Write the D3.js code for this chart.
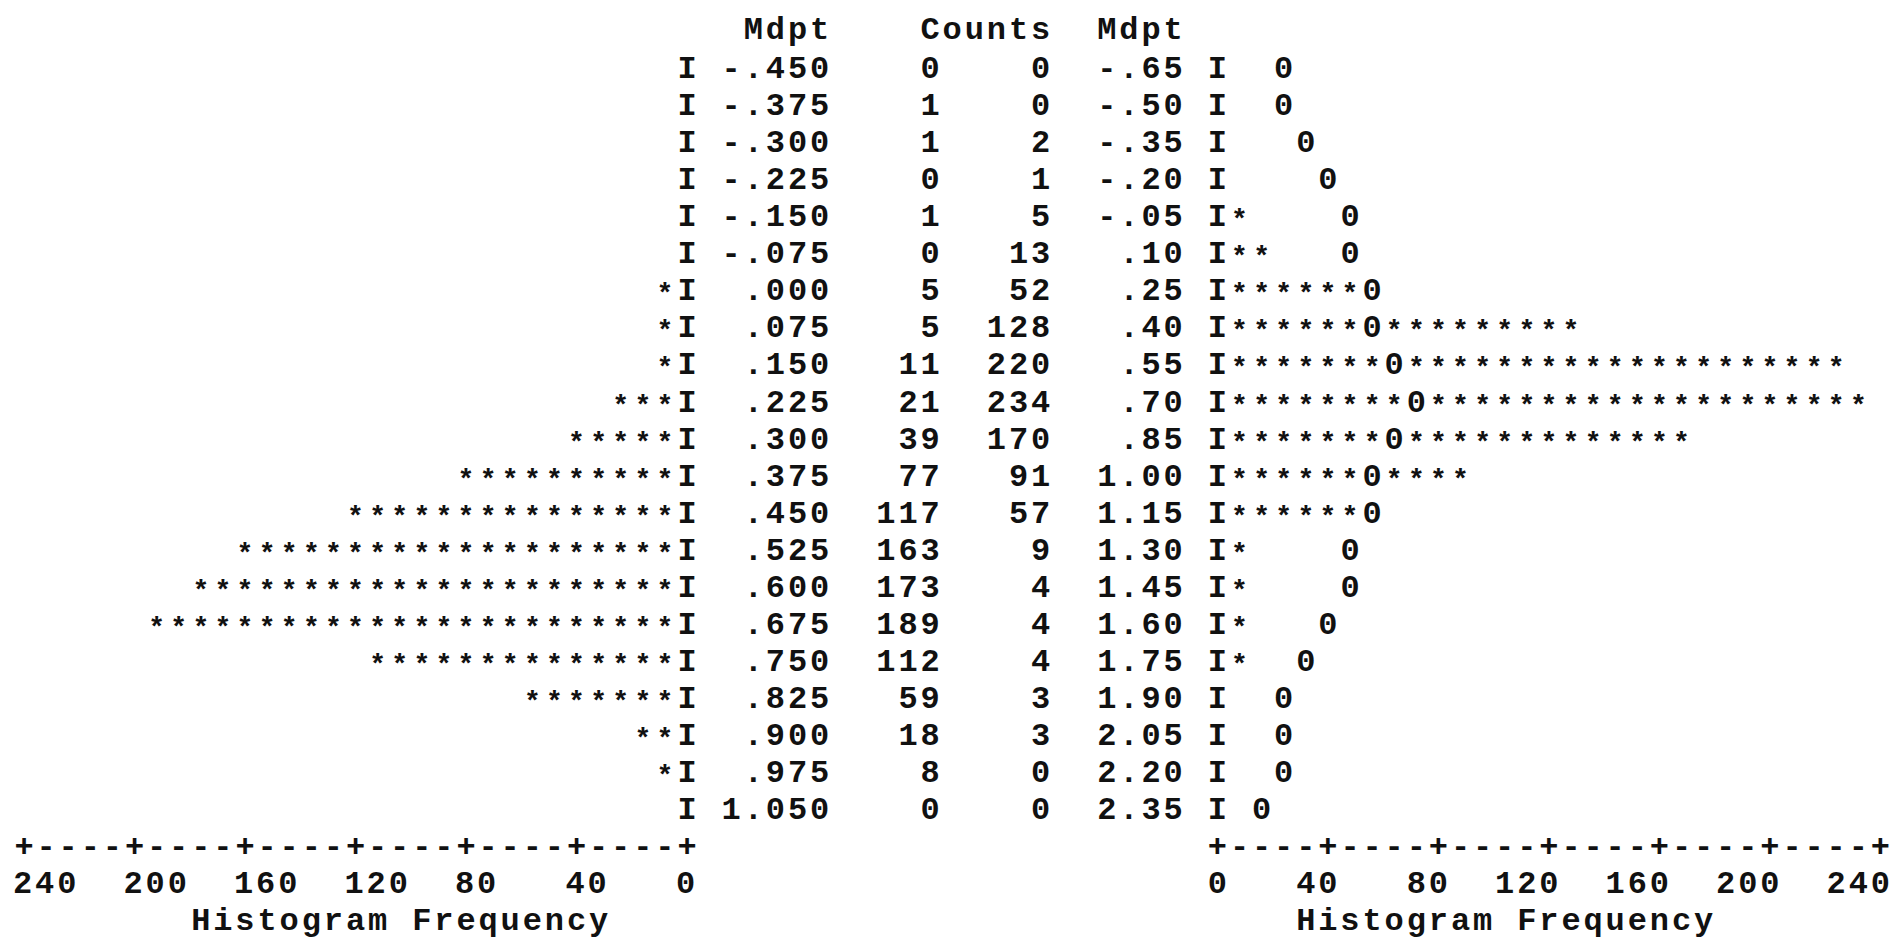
<!DOCTYPE html>
<html>
<head>
<meta charset="utf-8">
<script src="https://cdn.jsdelivr.net/npm/d3@7"></script>
<style>
  body { margin: 0; background: #fff; }
  text { font-family: "Liberation Mono", "DejaVu Sans Mono", monospace; font-weight: bold; font-size: 32px; letter-spacing: 2.9px; fill: #111; }
  text.star { font-size: 28px; letter-spacing: 5.3px; }
</style>
</head>
<body>
<svg id="chart" width="1895" height="940"></svg>
<script>
// left histogram
const leftMdpt = ["-.450", "-.375", "-.300", "-.225", "-.150", "-.075", ".000", ".075", ".150", ".225", ".300",
  ".375", ".450", ".525", ".600", ".675", ".750", ".825", ".900", ".975", "1.050"];
const leftCounts = [0, 1, 1, 0, 1, 0, 5, 5, 11, 21, 39, 77, 117, 163, 173, 189, 112, 59, 18, 8, 0];

// right histogram (with normal curve marks "0")
const rightMdpt = ["-.65", "-.50", "-.35", "-.20", "-.05", ".10", ".25", ".40", ".55", ".70", ".85",
  "1.00", "1.15", "1.30", "1.45", "1.60", "1.75", "1.90", "2.05", "2.20", "2.35"];
const rightCounts = [0, 0, 2, 1, 5, 13, 52, 128, 220, 234, 170, 91, 57, 9, 4, 4, 4, 3, 3, 0, 0];
const normalCurve = [24, 24, 32, 40, 48, 48, 56, 56, 64, 72, 64, 56, 56, 48, 48, 40, 32, 24, 24, 24, 16];

const leftTicks = [240, 200, 160, 120, 80, 40, 0];
const rightTicks = [0, 40, 80, 120, 160, 200, 240];
const axisTitle = "Histogram Frequency";

const svg = d3.select("#chart");

// character grid: one column per printed character
const cw = 22.1;
const ls = 2.9; // letter spacing, trails the last glyph
const col = d3.scaleLinear().domain([0, 84]).range([24, 24 + 84 * cw]);
const row = d3.scaleLinear().domain([-1, 23]).range([30, 30 + 24 * 37.05]);
const base = 11; // baseline offset from line centre

const xl = d3.scaleLinear().domain([0, 240]).range([col(30), col(0)]);
const xr = d3.scaleLinear().domain([0, 240]).range([col(54), col(84)]);
const step = 8; // counts per character

function put(x, y, s, anchor) {
  const a = anchor || "middle";
  const dx = a === "start" ? 0 : ls / 2;
  return svg.append("text").attr("x", x + dx).attr("y", y + base)
    .attr("text-anchor", a).text(s);
}
const rEnd = c => col(c) + cw / 2; // right edge of a column

function stars(sc, ks, y) {
  svg.selectAll(null).data(ks).enter().append("text")
    .attr("class", "star")
    .attr("x", k => sc(k * step) + 2.65).attr("y", y + base + 2)
    .attr("text-anchor", "middle").text("*");
}

// header
put(rEnd(36), row(-1) - 2, "Mdpt", "end");
put(rEnd(46), row(-1) - 2, "Counts", "end");
put(rEnd(52), row(-1) - 2, "Mdpt", "end");

leftMdpt.forEach((m, i) => {
  const y = row(i);
  put(xl(0), y, "I");
  put(rEnd(36), y, m, "end");
  put(rEnd(41), y, leftCounts[i], "end");
  put(rEnd(46), y, rightCounts[i], "end");
  put(rEnd(52), y, rightMdpt[i], "end");
  put(xr(0), y, "I");

  // left bar of stars
  const nl = Math.round(leftCounts[i] / step);
  stars(xl, d3.range(1, nl + 1), y);

  // right bar with the normal curve mark
  const nr = Math.round(rightCounts[i] / step);
  const m0 = Math.round(normalCurve[i] / step);
  stars(xr, d3.range(1, nr + 1).filter(k => k !== m0), y);
  put(xr(m0 * step), y, "0");
});

// axes drawn as +----+ lines
const axisY = row(21);
[xl, xr].forEach(sc => {
  svg.selectAll(null).data(d3.range(0, 241, step)).enter().append("text")
    .attr("x", d => sc(d) + ls / 2).attr("y", axisY + base)
    .attr("text-anchor", "middle")
    .text(d => d % 40 === 0 ? "+" : "-");
});

svg.selectAll(null).data(leftTicks).enter().append("text")
  .attr("x", d => xl(d) - cw / 2).attr("y", row(22) + base).attr("text-anchor", "start")
  .text(d => d);
svg.selectAll(null).data(rightTicks).enter().append("text")
  .attr("x", d => xr(d) + cw / 2 + ls / 2).attr("y", row(22) + base).attr("text-anchor", "end")
  .text(d => d);

put(xl(104), row(23), axisTitle);
put(xr(104), row(23), axisTitle);
</script>
</body>
</html>
